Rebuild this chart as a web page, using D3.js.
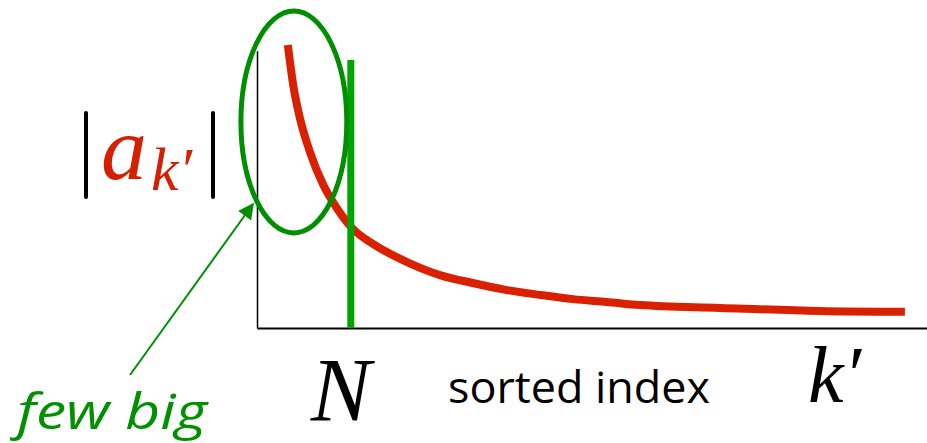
<!DOCTYPE html>
<html>
<head>
<meta charset="utf-8">
<script src="https://cdn.jsdelivr.net/npm/d3@7"></script>
<style>
  body { margin: 0; background: #fff; }
  svg { display: block; }
</style>
</head>
<body>
<div id="chart"></div>
<script>
// sorted coefficient magnitudes |a_k'| (index 0..100, magnitude 0..1)
const sortedIndex = [4.6, 5.4, 6.4, 7.9, 9.9, 11.9, 14.2, 17.6, 22.4, 27.3, 32.2, 37.3, 42.2, 47.2, 52.2, 57.2, 69.1, 84.0, 96.7];
const magnitude   = [1.0, 0.859, 0.742, 0.622, 0.505, 0.424, 0.353, 0.293, 0.233, 0.187, 0.159, 0.134, 0.117, 0.102, 0.092, 0.081, 0.071, 0.060, 0.057];
const cutoffN = 14;          // the "N" threshold
const cutoffTop = 0.947;
const bigGroup = { cx: 5.5, cy: 0.728, rx: 7.9, ry: 0.392 };

const width = 927, height = 443;
const margin = { top: 45, right: 0, bottom: 115, left: 257 };

const svg = d3.select("#chart").append("svg")
    .attr("width", width)
    .attr("height", height);

const x = d3.scaleLinear().domain([0, 100]).range([margin.left, width - margin.right]);
const y = d3.scaleLinear().domain([0, 1]).range([height - margin.bottom, margin.top]);

const data = sortedIndex.map((k, i) => ({ k: k, v: magnitude[i] }));

// axes: bare lines, no ticks
svg.append("g")
    .attr("transform", `translate(0,${y(0)})`)
    .call(d3.axisBottom(x).tickValues([]).tickSizeOuter(0))
    .select(".domain").attr("stroke", "#000").attr("stroke-width", 2);

svg.append("g")
    .attr("transform", `translate(${x(0)},0)`)
    .call(d3.axisLeft(d3.scaleLinear().domain([0, 0.98]).range([y(0), y(0.98)])).tickValues([]).tickSizeOuter(0))
    .select(".domain").attr("stroke", "#000").attr("stroke-width", 1.5);

// red decay curve
const line = d3.line()
    .x(d => x(d.k))
    .y(d => y(d.v))
    .curve(d3.curveMonotoneX);

svg.append("path")
    .datum(data)
    .attr("d", line)
    .attr("fill", "none")
    .attr("stroke", "#d92000")
    .attr("stroke-width", 8);

// green cutoff at N
svg.append("line")
    .attr("x1", x(cutoffN)).attr("x2", x(cutoffN))
    .attr("y1", y(0)).attr("y2", y(cutoffTop))
    .attr("stroke", "#00a400")
    .attr("stroke-width", 7);

// ellipse around the few big ones
svg.append("ellipse")
    .attr("cx", x(bigGroup.cx))
    .attr("cy", y(bigGroup.cy))
    .attr("rx", x(bigGroup.cx + bigGroup.rx) - x(bigGroup.cx))
    .attr("ry", y(bigGroup.cy) - y(bigGroup.cy + bigGroup.ry))
    .attr("fill", "none")
    .attr("stroke", "#008f00")
    .attr("stroke-width", 5);

// arrow
svg.append("defs").append("marker")
    .attr("id", "arrow")
    .attr("viewBox", "0 0 10 10")
    .attr("refX", 9).attr("refY", 5)
    .attr("markerWidth", 8).attr("markerHeight", 8)
    .attr("markerUnits", "strokeWidth")
    .attr("orient", "auto")
    .append("path")
    .attr("d", "M0,0 L10,5 L0,10 z")
    .attr("fill", "#008f00");

svg.append("line")
    .attr("x1", 130).attr("y1", 375)
    .attr("x2", 253).attr("y2", 204)
    .attr("stroke", "#008f00")
    .attr("stroke-width", 2)
    .attr("marker-end", "url(#arrow)");

// labels
svg.append("text")
    .attr("x", 17).attr("y", 429)
    .attr("font-family", "Open Sans")
    .attr("font-style", "italic")
    .attr("font-size", 50)
    .attr("fill", "#009000")
    .attr("textLength", 190)
    .attr("lengthAdjust", "spacingAndGlyphs")
    .text("few big");

svg.append("text")
    .attr("x", 448).attr("y", 403)
    .attr("font-family", "Open Sans")
    .attr("font-size", 43)
    .attr("fill", "#000")
    .attr("textLength", 262)
    .attr("lengthAdjust", "spacingAndGlyphs")
    .text("sorted index");

svg.append("text")
    .attr("x", x(cutoffN) - 10).attr("y", 421)
    .attr("text-anchor", "middle")
    .attr("font-family", "Liberation Serif")
    .attr("font-style", "italic")
    .attr("font-size", 90)
    .attr("fill", "#000")
    .text("N");

svg.append("text")
    .attr("x", 808).attr("y", 402)
    .attr("font-family", "Liberation Serif")
    .attr("font-style", "italic")
    .attr("font-size", 80)
    .attr("fill", "#000")
    .text("k′");

// |a_k'|
[86, 213].forEach(bx => {
    svg.append("line")
        .attr("x1", bx).attr("x2", bx)
        .attr("y1", 113).attr("y2", 197)
        .attr("stroke", "#000")
        .attr("stroke-width", 4)
        .attr("stroke-linecap", "round");
});

const lab = svg.append("text")
    .attr("x", 101).attr("y", 179)
    .attr("font-family", "Liberation Serif")
    .attr("font-style", "italic")
    .attr("fill", "#d42000");
lab.append("tspan").attr("font-size", 92).text("a");
lab.append("tspan").attr("font-size", 62).attr("dy", 11).attr("dx", 4).text("k′");
</script>
</body>
</html>
